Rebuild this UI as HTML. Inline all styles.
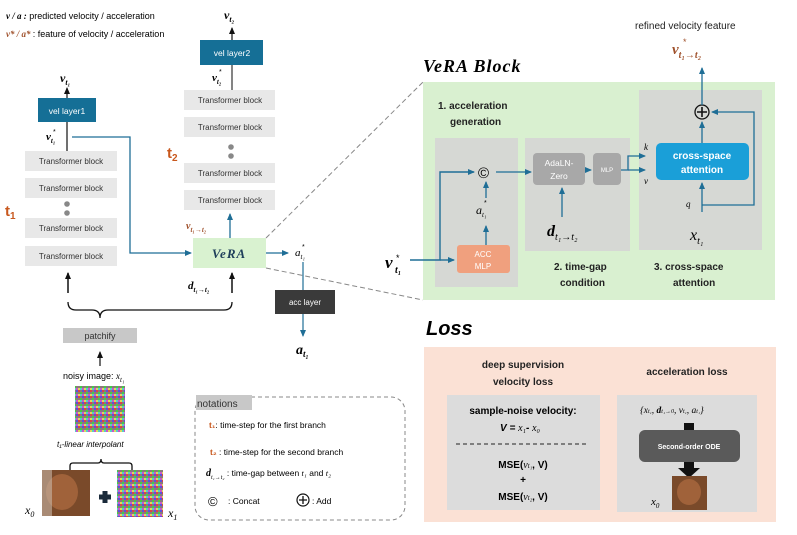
<!DOCTYPE html>
<html><head><meta charset="utf-8"><style>
body{margin:0;background:#fff;}
svg{display:block;font-family:"Liberation Sans",sans-serif;}
.m{font-family:"Liberation Serif",serif;font-style:italic;}
.mb{font-family:"Liberation Serif",serif;font-style:italic;font-weight:bold;}
</style></head><body>
<svg width="797" height="535" viewBox="0 0 797 535" xmlns="http://www.w3.org/2000/svg">
<defs>
<marker id="ab" markerWidth="8" markerHeight="8" refX="6" refY="4" orient="auto" markerUnits="userSpaceOnUse"><path d="M0,1 L7,4 L0,7z" fill="#1f6e96"/></marker>
<marker id="ak" markerWidth="8" markerHeight="8" refX="6" refY="4" orient="auto" markerUnits="userSpaceOnUse"><path d="M0,1 L7,4 L0,7z" fill="#111"/></marker>
<pattern id="noise" width="6" height="6" patternUnits="userSpaceOnUse">
<rect width="6" height="6" fill="#8a7a7a"/><rect x="0" y="0" width="2" height="2" fill="#d44"/><rect x="2" y="2" width="2" height="2" fill="#4c4"/><rect x="4" y="0" width="2" height="2" fill="#55d"/><rect x="0" y="4" width="2" height="2" fill="#dd5"/><rect x="4" y="4" width="2" height="2" fill="#c5c"/><rect x="2" y="4" width="2" height="2" fill="#5cc"/>
</pattern>
</defs>

<!-- legend -->
<text x="6" y="19" font-size="9"><tspan class="mb">v / a :</tspan> predicted velocity / acceleration</text>
<text x="6" y="37" font-size="9"><tspan class="mb" fill="#a0522d">v* / a* </tspan>: feature of velocity / acceleration</text>

<!-- t1 stack -->
<text x="60" y="82" class="mb" font-size="12">v<tspan font-size="8" dy="3">t₁</tspan></text>
<line x1="67" y1="98" x2="67" y2="88" stroke="#111" stroke-width="1.2" marker-end="url(#ak)"/>
<rect x="38" y="98" width="58" height="24" fill="#156f96"/>
<text x="67" y="114" font-size="8.5" fill="#fff" text-anchor="middle">vel layer1</text>
<line x1="67" y1="122" x2="67" y2="151" stroke="#111" stroke-width="1.2"/>
<text x="46" y="140" class="mb" font-size="11">v<tspan font-size="7" dy="3">t₁</tspan></text>
<text x="53" y="134" font-size="7">*</text>
<g font-size="8" fill="#333" text-anchor="middle">
<rect x="25" y="151" width="92" height="20" fill="#e8e8e8"/><text x="71" y="164">Transformer block</text>
<rect x="25" y="178" width="92" height="20" fill="#e8e8e8"/><text x="71" y="191">Transformer block</text>
<rect x="25" y="218" width="92" height="20" fill="#e8e8e8"/><text x="71" y="231">Transformer block</text>
<rect x="25" y="246" width="92" height="20" fill="#e8e8e8"/><text x="71" y="259">Transformer block</text>
<rect x="184" y="90" width="91" height="20" fill="#e8e8e8"/><text x="230" y="103">Transformer block</text>
<rect x="184" y="117" width="91" height="20" fill="#e8e8e8"/><text x="230" y="130">Transformer block</text>
<rect x="184" y="163" width="91" height="20" fill="#e8e8e8"/><text x="230" y="176">Transformer block</text>
<rect x="184" y="190" width="91" height="20" fill="#e8e8e8"/><text x="230" y="203">Transformer block</text>
</g>
<circle cx="67" cy="204" r="2.8" fill="#888"/><circle cx="67" cy="213" r="2.8" fill="#888"/>
<circle cx="231" cy="147" r="2.8" fill="#888"/><circle cx="231" cy="156" r="2.8" fill="#888"/>
<text x="5" y="216" font-size="15" font-weight="bold" fill="#c8581e">t<tspan font-size="10" dy="3">1</tspan></text>
<text x="167" y="158" font-size="15" font-weight="bold" fill="#c8581e">t<tspan font-size="10" dy="3">2</tspan></text>

<!-- t2 top -->
<text x="224" y="19" class="mb" font-size="12">v<tspan font-size="8" dy="3">t₂</tspan></text>
<line x1="232" y1="40" x2="232" y2="28" stroke="#111" stroke-width="1.2" marker-end="url(#ak)"/>
<rect x="200" y="40" width="63" height="25" fill="#156f96"/>
<text x="232" y="56" font-size="8.5" fill="#fff" text-anchor="middle">vel layer2</text>
<line x1="232" y1="65" x2="232" y2="90" stroke="#333" stroke-width="1.2"/>
<text x="212" y="81" class="mb" font-size="11">v<tspan font-size="7" dy="3">t₂</tspan></text>
<text x="219" y="74" font-size="7">*</text>

<!-- VeRA -->
<polyline points="72,137 130,137 130,253 191,253" fill="none" stroke="#1f6e96" stroke-width="1.3" marker-end="url(#ab)"/>
<rect x="193" y="238" width="73" height="30" fill="#d9f2d0"/>
<text x="229" y="258" class="mb" font-size="13" fill="#1f3f5a" text-anchor="middle" letter-spacing="1">VeRA</text>
<text x="186" y="229" class="mb" font-size="10" fill="#a0522d">v<tspan font-size="7" dy="3">t₁→t₂</tspan></text>
<line x1="230" y1="238" x2="230" y2="214" stroke="#1f6e96" stroke-width="1.3" marker-end="url(#ab)"/>
<line x1="266" y1="253" x2="288" y2="253" stroke="#1f6e96" stroke-width="1.3" marker-end="url(#ab)"/>
<text x="295" y="256" class="m" font-size="11">a<tspan font-size="7" dy="3">t₁</tspan></text>
<text x="302" y="249" font-size="7">*</text>
<line x1="303" y1="262" x2="303" y2="290" stroke="#1f6e96" stroke-width="1.2"/>
<rect x="275" y="290" width="60" height="24" fill="#3a3a3a"/>
<text x="305" y="305" font-size="8" fill="#fff" text-anchor="middle">acc layer</text>
<line x1="303" y1="314" x2="303" y2="336" stroke="#1f6e96" stroke-width="1.2" marker-end="url(#ab)"/>
<text x="296" y="354" class="mb" font-size="14">a<tspan font-size="9" dy="3">t₁</tspan></text>

<!-- dashed zoom lines -->
<line x1="266" y1="238" x2="423" y2="82" stroke="#888" stroke-dasharray="5,3"/>
<line x1="266" y1="268" x2="423" y2="300" stroke="#888" stroke-dasharray="5,3"/>

<!-- inputs -->
<line x1="68" y1="293" x2="68" y2="273" stroke="#111" stroke-width="1.5" marker-end="url(#ak)"/>
<line x1="232" y1="293" x2="232" y2="273" stroke="#111" stroke-width="1.5" marker-end="url(#ak)"/>
<text x="188" y="289" class="mb" font-size="11">d<tspan font-size="7" dy="3">t₁→t₂</tspan></text>
<path d="M68,302 q0,8 8,8 L92,310 q8,0 8,8 q0,-8 8,-8 L224,310 q8,0 8,-8" fill="none" stroke="#111" stroke-width="1.3"/>
<rect x="63" y="328" width="74" height="15" fill="#c8c8c8"/>
<text x="100" y="339" font-size="9" fill="#333" text-anchor="middle">patchify</text>
<line x1="100" y1="366" x2="100" y2="352" stroke="#111" stroke-width="1.2" marker-end="url(#ak)"/>
<text x="63" y="379" font-size="9">noisy image: <tspan class="m">x</tspan><tspan class="m" font-size="7" dy="3">t₁</tspan></text>
<rect x="75" y="386" width="50" height="46" fill="url(#noise)"/>
<text x="57" y="447" font-size="8" font-style="italic">t₁-linear interpolant</text>
<path d="M70,470 l0,-4 q0,-3 3,-3 L98,463 q3,0 3,-4 q0,4 3,4 L129,463 q3,0 3,3 l0,4" fill="none" stroke="#111" stroke-width="1.3"/>
<rect x="42" y="470" width="48" height="46" fill="#7a4a2a"/>
<ellipse cx="62" cy="492" rx="16" ry="18" fill="#a0623a"/>
<rect x="42" y="470" width="10" height="46" fill="#c8b8a8" opacity="0.6"/>
<path d="M99,497 h12 M105,491 v12" stroke="#1a2a3a" stroke-width="5"/>
<rect x="117" y="470" width="46" height="47" fill="url(#noise)"/>
<text x="25" y="514" class="m" font-size="12">x<tspan font-size="8" dy="3">0</tspan></text>
<text x="168" y="517" class="m" font-size="12">x<tspan font-size="8" dy="3">1</tspan></text>

<!-- notations -->
<rect x="195" y="397" width="210" height="123" rx="14" fill="none" stroke="#888" stroke-dasharray="4,3"/>
<rect x="196" y="395" width="56" height="15" fill="#c8c8c8"/>
<text x="197" y="407" font-size="10" fill="#333">notations</text>
<text x="209" y="428" font-size="8.5"><tspan fill="#c8581e" font-weight="bold">t₁</tspan>: time-step for the first branch</text>
<text x="210" y="455" font-size="8.5"><tspan fill="#c8581e" font-weight="bold">t₂</tspan> : time-step for the second branch</text>
<text x="206" y="476" font-size="8.5"><tspan class="mb" font-size="10">d</tspan><tspan font-size="6" class="m" dy="3">t₁→t₂</tspan><tspan dy="-3"> : time-gap between </tspan><tspan class="m">t₁</tspan> and <tspan class="m">t₂</tspan></text>
<text x="208" y="506" font-size="13">©</text>
<text x="228" y="504" font-size="8.5">: Concat</text>
<circle cx="303" cy="500" r="6" fill="none" stroke="#111" stroke-width="1.2"/>
<path d="M299,500 h8 M303,496 v8" stroke="#111" stroke-width="1.3"/>
<text x="312" y="504" font-size="8.5">: Add</text>

<!-- VeRA Block -->
<text x="423" y="72" class="mb" font-size="18" letter-spacing="1">VeRA Block</text>
<rect x="423" y="82" width="352" height="218" fill="#d9f0d0"/>
<rect x="435" y="138" width="83" height="149" fill="#d6d8d4"/>
<rect x="525" y="138" width="105" height="113" fill="#d6d8d4"/>
<rect x="639" y="90" width="123" height="160" fill="#d6d8d4"/>
<text x="438" y="109" font-size="10" font-weight="bold" fill="#222">1. acceleration</text>
<text x="450" y="125" font-size="10" font-weight="bold" fill="#222">generation</text>
<text x="554" y="270" font-size="10" font-weight="bold" fill="#222">2. time-gap</text>
<text x="560" y="286" font-size="10" font-weight="bold" fill="#222">condition</text>
<text x="654" y="270" font-size="10" font-weight="bold" fill="#222">3. cross-space</text>
<text x="673" y="286" font-size="10" font-weight="bold" fill="#222">attention</text>

<text x="385" y="268" class="mb" font-size="17">v</text>
<text x="396" y="261" font-size="9">*</text>
<text x="395" y="273" class="mb" font-size="10">t₁</text>
<polyline points="410,260 440,260 440,172 474,172" fill="none" stroke="#1f6e96" stroke-width="1.4" marker-end="url(#ab)"/>
<line x1="440" y1="260" x2="454" y2="260" stroke="#1f6e96" stroke-width="1.4" marker-end="url(#ab)"/>
<rect x="457" y="245" width="53" height="28" rx="3" fill="#f0a07e"/>
<text x="483" y="257" font-size="8" fill="#fff" text-anchor="middle">ACC</text>
<text x="483" y="269" font-size="8" fill="#fff" text-anchor="middle">MLP</text>
<line x1="486" y1="245" x2="486" y2="226" stroke="#1f6e96" stroke-width="1.3" marker-end="url(#ab)"/>
<text x="476" y="214" class="m" font-size="12">a<tspan font-size="7" dy="3">t₁</tspan></text>
<text x="484" y="205" font-size="7">*</text>
<line x1="486" y1="198" x2="486" y2="182" stroke="#1f6e96" stroke-width="1.3" marker-end="url(#ab)"/>
<text x="478" y="178" font-size="15">©</text>
<line x1="496" y1="172" x2="531" y2="172" stroke="#1f6e96" stroke-width="1.3" marker-end="url(#ab)"/>
<rect x="533" y="153" width="52" height="32" rx="4" fill="#a8a8a8"/>
<text x="559" y="166" font-size="8.5" fill="#fff" text-anchor="middle">AdaLN-</text>
<text x="559" y="179" font-size="8.5" fill="#fff" text-anchor="middle">Zero</text>
<line x1="562" y1="217" x2="562" y2="188" stroke="#1f6e96" stroke-width="1.3" marker-end="url(#ab)"/>
<text x="547" y="236" class="mb" font-size="16">d<tspan class="m" font-weight="normal" font-size="10" dy="4">t₁→t₂</tspan></text>
<line x1="585" y1="170" x2="591" y2="170" stroke="#1f6e96" stroke-width="1.2" marker-end="url(#ab)"/>
<rect x="593" y="153" width="28" height="32" rx="4" fill="#a8a8a8"/>
<text x="607" y="172" font-size="6" fill="#fff" text-anchor="middle">MLP</text>
<polyline points="621,170 628,170 628,156 645,156" fill="none" stroke="#1f6e96" stroke-width="1.3" marker-end="url(#ab)"/>
<polyline points="628,170 628,170 645,170" fill="none" stroke="#1f6e96" stroke-width="1.3" marker-end="url(#ab)"/>
<text x="644" y="150" class="m" font-size="9">k</text>
<text x="644" y="184" class="m" font-size="9">v</text>
<rect x="656" y="143" width="93" height="37" rx="5" fill="#1a9fd8"/>
<text x="702" y="159" font-size="10" font-weight="bold" fill="#fff" text-anchor="middle">cross-space</text>
<text x="702" y="173" font-size="10" font-weight="bold" fill="#fff" text-anchor="middle">attention</text>
<line x1="702" y1="212" x2="702" y2="183" stroke="#1f6e96" stroke-width="1.3" marker-end="url(#ab)"/>
<polyline points="702,205 754,205 754,112 712,112" fill="none" stroke="#1f6e96" stroke-width="1.3" marker-end="url(#ab)"/>
<text x="686" y="207" class="m" font-size="9">q</text>
<text x="690" y="240" class="m" font-size="16">x<tspan font-size="10" dy="4">t₁</tspan></text>
<line x1="702" y1="143" x2="702" y2="122" stroke="#1f6e96" stroke-width="1.3" marker-end="url(#ab)"/>
<circle cx="702" cy="112" r="7" fill="none" stroke="#111" stroke-width="1.3"/>
<path d="M697,112 h10 M702,107 v10" stroke="#111" stroke-width="1.6"/>
<line x1="702" y1="105" x2="702" y2="68" stroke="#1f6e96" stroke-width="1.3" marker-end="url(#ab)"/>
<text x="635" y="29" font-size="10" fill="#222">refined velocity feature</text>
<text x="672" y="54" class="mb" font-size="15" fill="#a0522d">v<tspan font-size="10" dy="4">t₁→t₂</tspan></text>
<text x="683" y="45" font-size="9" fill="#a0522d">*</text>

<!-- Loss -->
<text x="426" y="335" font-size="20" font-weight="bold" font-style="italic">Loss</text>
<rect x="424" y="347" width="352" height="175" fill="#fbe1d5"/>
<text x="523" y="368" font-size="10" font-weight="bold" text-anchor="middle" fill="#222">deep supervision</text>
<text x="523" y="385" font-size="10" font-weight="bold" text-anchor="middle" fill="#222">velocity loss</text>
<text x="687" y="375" font-size="10" font-weight="bold" text-anchor="middle" fill="#222">acceleration loss</text>
<rect x="447" y="395" width="153" height="115" fill="#dcdcdc"/>
<rect x="617" y="395" width="140" height="117" fill="#dcdcdc"/>
<text x="523" y="414" font-size="10" font-weight="bold" text-anchor="middle">sample-noise velocity:</text>
<text x="500" y="431" font-size="10" font-weight="bold" font-style="italic">V = <tspan class="m" font-weight="normal">x₁</tspan>- <tspan class="m" font-weight="normal">x₀</tspan></text>
<line x1="456" y1="444" x2="588" y2="444" stroke="#222" stroke-dasharray="4,3"/>
<text x="523" y="468" font-size="10" font-weight="bold" text-anchor="middle">MSE(<tspan class="m" font-weight="normal">v<tspan font-size="7">t₁</tspan></tspan>, V)</text>
<text x="523" y="483" font-size="10" font-weight="bold" text-anchor="middle">+</text>
<text x="523" y="500" font-size="10" font-weight="bold" text-anchor="middle">MSE(<tspan class="m" font-weight="normal">v<tspan font-size="7">t₂</tspan></tspan>, V)</text>
<text x="640" y="413" class="m" font-size="9.5">{x<tspan font-size="6">t₁</tspan>, <tspan font-weight="bold">d</tspan><tspan font-size="6">t₁→0</tspan>, v<tspan font-size="6">t₁</tspan>, a<tspan font-size="6">t₁</tspan>}</text>
<rect x="684" y="423" width="10" height="8" fill="#111"/>
<rect x="639" y="430" width="101" height="32" rx="6" fill="#5a5a5a"/>
<text x="689" y="449" font-size="7" font-weight="bold" fill="#fff" text-anchor="middle">Second-order ODE</text>
<path d="M684,462 h10 v6 h6 l-11,10 l-11,-10 h6z" fill="#111"/>
<rect x="672" y="476" width="35" height="34" fill="#7a4a2a"/>
<ellipse cx="689" cy="492" rx="12" ry="13" fill="#a0623a"/>
<text x="651" y="505" class="m" font-size="11">x<tspan font-size="7" dy="3">0</tspan></text>
</svg>
</body></html>
